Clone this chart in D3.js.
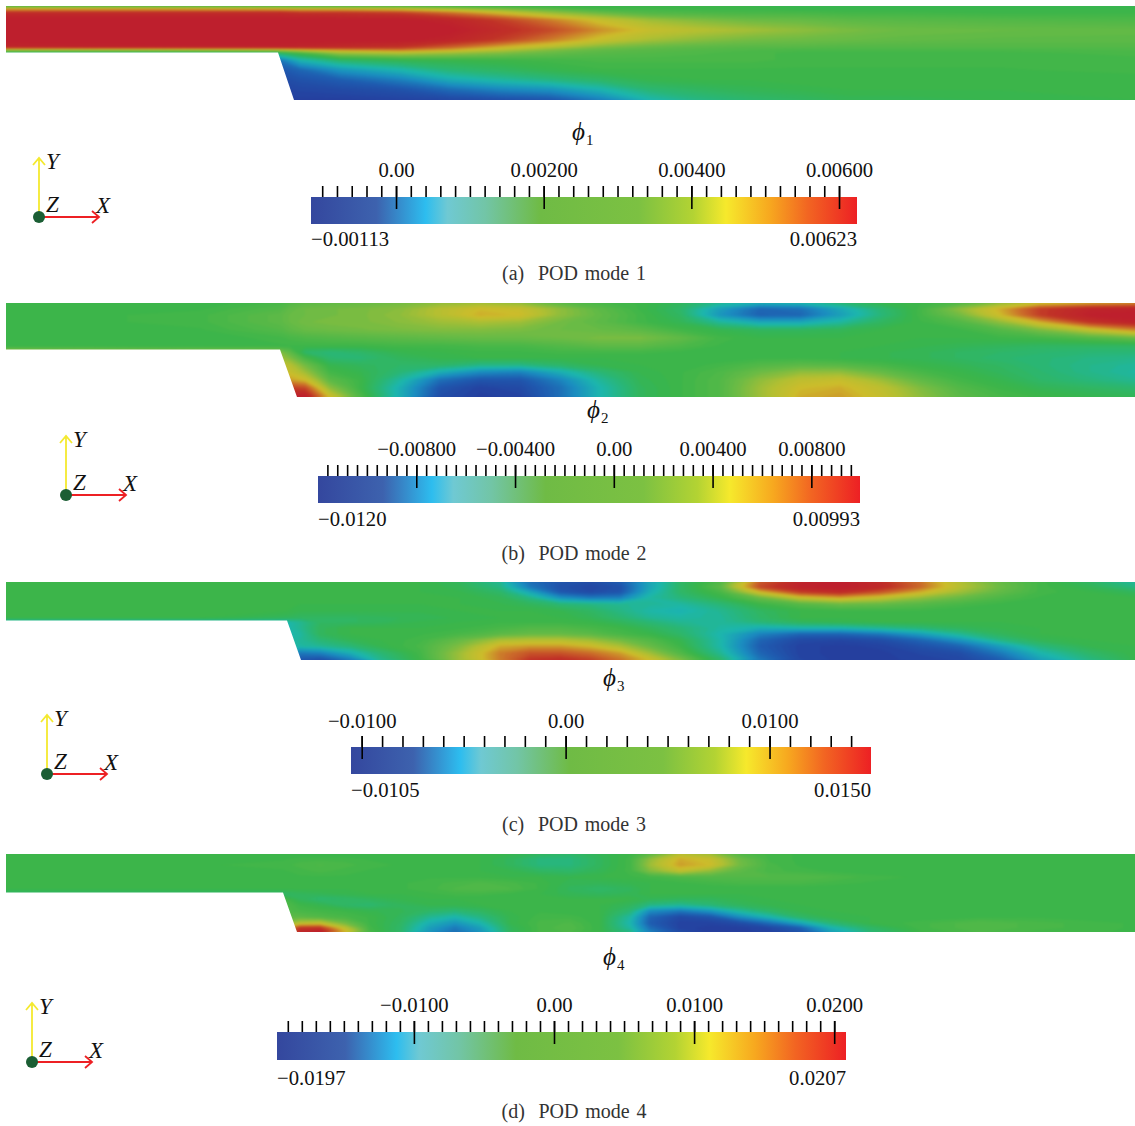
<!DOCTYPE html>
<html><head><meta charset="utf-8">
<script src="https://cdn.jsdelivr.net/npm/d3@7"></script>
<style>
html,body{margin:0;padding:0;background:#fff}
svg{display:block}
text{font-family:"Liberation Serif",serif}
</style></head><body><div id="c"></div>
<script>
// Field colour ramp: position on the 0-100 colour range
const fieldRampPos=[0,10,20,30,38,45,55,65,72,82,92,100];
const fieldRampCol=["#26389a","#1f5cb0","#1b8dc0","#1cb6ae","#2ab674","#39b54a","#6cbb45","#b3bf32","#cdbc2b","#cb6d2a","#c03027","#be1e2d"];
// Legend bar colour ramp
const barRampPos=[0,0.12,0.21,0.25,0.32,0.42,0.6,0.7,0.76,0.84,0.91,1];
const barRampCol=["#34479e","#3d62ae","#2dbdef","#6fc9d3","#72c5a6","#6fbb45","#7cc142","#b3d333","#f6e92c","#f7a81f","#f26522","#ed2024"];

// Mode 1 field (percent of colour range)
const colsA=[6,150,278,300,340,400,450,500,550,600,650,700,750,800,850,900,1000,1135];
const rowsA=[6,9,13,20,30,40,47,50,53,60,70,80,90,100];
const fieldA=[
[48,48,48,48,48,48,47,46,45,45,45,45,45,44,44,44,44,44],
[75,75,74,72,72,70,64,58,52,47,47,46,46,45,45,45,45,45],
[95,95,95,93,92,90,82,72,62,55,50,49,48,48,47,47,46,46],
[100,100,100,100,100,100,97,90,80,70,62,58,55,54,52,51,50,49],
[99,100,100,100,100,100,100,94,88,78,70,66,63,60,57,55,54,53],
[100,100,100,100,100,100,97,90,80,70,63,59,56,55,54,53,52,52],
[97,98,98,97,95,92,84,74,66,58,54,52,51,51,50,50,50,50],
[62,62,64,70,76,80,74,66,58,53,51,50,49,48,48,48,48,49],
[40,40,40,48,62,65,62,58,54,51,50,49,48,47,47,47,47,48],
[15,15,15,30,40,44,45,46,47,48,48,48,48,47,47,47,47,47],
[8,8,8,12,22,30,38,41,44,46,46,46,46,46,46,46,46,47],
[5,5,5,7,10,17,27,32,36,40,44,45,45,46,45,45,45,45],
[3,3,3,4,5,7,13,18,21,29,38,41,43,44,45,45,45,45],
[2,2,2,2,2,3,4,6,8,17,30,36,39,41,43,43,44,45]];

// Mode 2 field
const colsB=[6,200,280,290,305,330,360,400,440,480,520,560,600,640,680,720,760,800,840,880,920,960,1000,1040,1090,1135];
const rowsB=[303,309,315,322,330,338,346,352,358,365,372,380,388,397];
const fieldB=[
[45,45,48,50,52,53,54,56,60,62,60,52,48,46,42,34,28,30,38,44,46,50,60,70,75,78],
[45,46,50,53,55,56,57,59,66,72,70,60,52,46,40,24,12,14,26,38,47,60,74,90,97,98],
[45,47,52,54,55,56,57,60,66,74,72,60,53,47,41,22,11,12,24,37,47,56,72,90,99,100],
[45,47,52,54,56,57,57,59,62,64,62,56,52,47,43,33,26,26,32,41,46,50,60,74,92,98],
[45,46,50,52,54,55,56,57,58,58,57,55,54,52,47,44,42,42,43,45,45,46,50,57,68,78],
[45,45,47,48,49,50,51,52,53,54,54,55,57,57,53,47,45,45,45,45,45,45,46,47,50,54],
[45,45,46,46,46,46,46,47,47,48,48,50,52,52,49,46,45,45,45,45,44,43,42,41,41,41],
[62,60,58,52,40,38,40,44,45,46,46,47,47,47,46,45,45,45,45,44,43,41,40,39,38,38],
[64,64,62,58,48,39,38,42,44,45,45,45,45,45,45,45,46,46,45,44,43,41,39,38,36,35],
[68,68,68,66,56,44,42,40,40,36,36,40,44,45,45,47,50,52,51,48,45,43,41,38,35,33],
[72,72,72,70,62,47,44,38,28,20,18,28,38,44,46,49,55,60,60,54,48,45,42,39,35,32],
[80,80,80,76,72,52,46,32,14,8,8,18,33,43,46,50,60,68,70,62,53,47,44,40,37,34],
[92,92,92,90,88,60,46,28,8,3,5,14,30,42,46,50,62,72,74,68,58,50,46,43,41,39],
[100,100,100,100,100,72,50,28,6,2,3,14,30,42,46,50,62,74,76,70,60,52,48,46,44,43]];

// Mode 3 field
const colsC=[6,200,287,300,320,350,380,420,460,500,530,560,590,620,650,680,720,760,800,840,880,920,960,1000,1040,1090,1135];
const rowsC=[582,587,592,598,604,611,618,622,628,634,640,646,653,660];
const fieldC=[
[45,45,45,45,45,45,45,45,42,34,14,8,6,10,26,40,50,85,97,100,94,82,65,54,47,41,33],
[45,45,45,45,45,45,45,45,43,36,16,7,4,7,26,40,52,88,98,100,95,83,66,55,47,43,36],
[45,45,45,45,45,45,45,45,44,40,26,9,5,8,28,40,48,72,90,95,86,74,62,53,47,45,42],
[45,45,45,45,45,45,45,45,45,43,36,22,17,18,32,37,44,54,68,74,68,60,54,49,46,45,45],
[45,45,45,45,45,45,45,45,45,44,42,38,36,34,33,32,38,46,51,55,54,51,48,46,45,45,45],
[45,45,45,44,44,44,44,44,45,45,45,44,41,36,31,29,34,41,45,46,46,46,45,45,45,45,45],
[45,45,42,41,41,41,42,43,44,45,46,45,43,39,34,32,33,40,45,45,45,45,45,45,45,45,45],
[30,30,30,34,41,41,42,44,45,46,46,46,45,42,38,34,33,38,42,44,45,45,45,45,45,45,45],
[30,30,30,34,42,45,45,45,46,48,50,50,48,46,42,38,32,28,30,30,34,38,42,44,45,45,45],
[30,30,30,32,42,45,45,46,48,52,54,54,52,48,45,40,30,18,12,12,16,24,34,42,45,45,45],
[30,30,30,33,38,43,45,47,54,64,66,66,62,56,50,44,31,12,5,4,6,12,22,36,43,45,45],
[30,30,30,32,34,38,44,48,58,74,76,76,72,64,54,46,31,10,3,2,3,7,12,24,37,44,45],
[30,30,28,16,18,28,38,47,62,80,86,86,82,76,62,50,34,12,3,2,2,4,6,16,30,40,45],
[30,30,20,8,6,16,34,46,62,80,92,94,90,82,72,58,40,16,4,2,2,3,4,10,24,36,44]];

// Mode 4 field
const colsD=[6,200,283,300,320,345,370,400,430,455,480,510,540,570,600,630,650,680,710,740,770,800,830,870,920,980,1040,1135];
const rowsD=[854,859,865,871,877,883,889,894,899,905,911,917,923,928,932];
const fieldD=[
[45,45,45,45,45,45,45,45,45,45,45,44,42,40,43,46,52,66,62,50,47,46,45,45,45,45,45,45],
[45,46,46,47,47,47,46,46,45,45,45,42,37,37,42,47,60,74,70,55,47,46,45,45,45,45,45,45],
[45,46,47,48,49,48,47,46,45,45,45,42,37,37,42,47,62,76,72,56,48,46,45,45,45,45,45,45],
[45,45,46,47,48,47,46,46,45,45,45,44,41,40,43,47,58,68,60,52,48,47,46,45,45,45,45,45],
[45,45,45,46,46,46,46,46,46,46,46,45,45,44,45,46,47,49,50,50,50,50,49,47,46,45,45,45],
[45,45,45,45,45,45,46,46,47,48,49,48,46,43,43,44,45,46,47,48,48,48,47,46,45,45,45,45],
[45,45,45,45,45,45,45,46,47,49,50,49,46,42,40,42,45,45,45,45,45,45,45,45,45,45,45,45],
[40,40,40,42,43,44,45,45,46,47,47,46,45,43,42,43,45,45,45,45,45,45,45,45,45,45,45,45],
[48,48,48,42,39,40,42,44,45,45,45,45,45,45,45,45,43,42,42,44,45,45,45,45,45,45,45,45],
[50,50,50,46,44,40,39,42,44,44,45,45,45,45,45,42,36,34,38,42,44,45,45,45,45,45,45,45],
[50,50,50,48,47,46,44,43,40,38,41,45,46,45,45,38,20,16,22,33,40,44,45,45,45,45,45,45],
[52,52,52,52,50,48,46,42,34,30,36,44,47,47,45,32,12,5,8,20,30,40,44,45,45,46,46,45],
[58,58,58,66,68,56,46,41,28,22,30,44,48,49,45,30,10,3,3,6,14,26,38,45,47,50,48,46],
[70,70,72,92,92,68,47,40,24,16,24,42,48,50,45,32,14,3,2,2,4,10,28,40,47,50,48,46],
[72,72,72,96,100,74,48,40,22,14,22,42,48,49,45,36,18,6,2,2,3,8,24,38,46,49,47,46]];

// Legend ranges and ticks
const rangeA=[-0.00113,0.00623], majorA=[0,0.002,0.004,0.006], majorLabelsA=["0.00","0.00200","0.00400","0.00600"], minorA=[-0.001,0.0062,0.0002], endLabelsA=["\u22120.00113","0.00623"];
const rangeB=[-0.012,0.00993], majorB=[-0.008,-0.004,0,0.004,0.008], majorLabelsB=["\u22120.00800","\u22120.00400","0.00","0.00400","0.00800"], minorB=[-0.0116,0.0098,0.0004], endLabelsB=["\u22120.0120","0.00993"];
const rangeC=[-0.0105,0.015], majorC=[-0.01,0,0.01], majorLabelsC=["\u22120.0100","0.00","0.0100"], minorC=[-0.01,0.0145,0.001], endLabelsC=["\u22120.0105","0.0150"];
const rangeD=[-0.0197,0.0207], majorD=[-0.01,0,0.01,0.02], majorLabelsD=["\u22120.0100","0.00","0.0100","0.0200"], minorD=[-0.019,0.0205,0.001], endLabelsD=["\u22120.0197","0.0207"];
const captions=["(a)  POD mode 1","(b)  POD mode 2","(c)  POD mode 3","(d)  POD mode 4"];
const symbols=["1","2","3","4"];

const panels=[
 {cols:colsA,rows:rowsA,field:fieldA,clip:[[6,6],[1135,6],[1135,100],[294,100],[278,52.5],[6,52.5]],
  range:rangeA,major:majorA,labels:majorLabelsA,minor:minorA,ends:endLabelsA,bar:[311,857,197,224],inset:[1.6,-1],pad:9,end:246,cap:[574,280],sym:[572,140],tri:[39,217]},
 {cols:colsB,rows:rowsB,field:fieldB,clip:[[6,303],[1135,303],[1135,397],[297,397],[280,349.5],[6,349.5]],
  range:rangeB,major:majorB,labels:majorLabelsB,minor:minorB,ends:endLabelsB,bar:[318,860,476,503],inset:[-0.5,-1],pad:9,end:526,cap:[574,560],sym:[587,418],tri:[66,495]},
 {cols:colsC,rows:rowsC,field:fieldC,clip:[[6,582],[1135,582],[1135,660],[301,660],[287,620.5],[6,620.5]],
  range:rangeC,major:majorC,labels:majorLabelsC,minor:minorC,ends:endLabelsC,bar:[351,871,747,774],inset:[0.5,0.5],pad:8,end:797,cap:[574,831],sym:[603,686],tri:[47,774]},
 {cols:colsD,rows:rowsD,field:fieldD,clip:[[6,854],[1135,854],[1135,932],[297,932],[283,892.5],[6,892.5]],
  range:rangeD,major:majorD,labels:majorLabelsD,minor:minorD,ends:endLabelsD,bar:[277,846,1032,1060],inset:[1,-2],pad:9,end:1085,cap:[574,1118],sym:[603,965],tri:[32,1062]}
];

const W=1135,H=1126;
const svg=d3.select("#c").append("svg").attr("width",W).attr("height",H).attr("viewBox",[0,0,W,H]);
const defs=svg.append("defs");
const blur=defs.append("filter").attr("id","soft").attr("filterUnits","userSpaceOnUse")
  .attr("x",-20).attr("y",-20).attr("width",W+40).attr("height",H+40)
  .attr("color-interpolation-filters","sRGB");
blur.append("feGaussianBlur").attr("stdDeviation",0.9);
const barGrad=defs.append("linearGradient").attr("id","barRamp");
barGrad.selectAll("stop").data(barRampPos).join("stop")
  .attr("offset",d=>d).attr("stop-color",(d,i)=>barRampCol[i]);

const color=d3.scaleLinear().domain(fieldRampPos).range(fieldRampCol).interpolate(d3.interpolateRgb);
const levels=d3.range(0,100,1.25);

panels.forEach((p,k)=>{
  const n=p.cols.length,m=p.rows.length;
  const xIdx=d3.scaleLinear().domain(d3.range(n)).range(p.cols);
  const yIdx=d3.scaleLinear().domain(d3.range(m)).range(p.rows);
  const path=d3.geoPath(d3.geoTransform({point(x,y){this.stream.point(xIdx(x-0.5),yIdx(y-0.5));}}));
  const bands=d3.contours().size([n,m]).thresholds(levels)(p.field.flat());
  defs.append("clipPath").attr("id","clip"+k).append("polygon").attr("points",p.clip.join(" "));
  svg.append("g").attr("clip-path",`url(#clip${k})`)
    .append("g").attr("filter","url(#soft)")
    .selectAll("path").data(bands).join("path")
    .attr("d",path).attr("fill",d=>color(d.value+0.6));

  // legend bar
  const [x0,x1,y0,y1]=p.bar;
  const x=d3.scaleLinear().domain(p.range).range([x0+p.inset[0],x1+p.inset[1]]);
  svg.append("rect").attr("x",x0).attr("y",y0).attr("width",x1-x0).attr("height",y1-y0).attr("fill","url(#barRamp)");
  const minorVals=d3.range(p.minor[0],p.minor[1],p.minor[2]);
  const gMinor=svg.append("g").attr("transform",`translate(0,${y0})`)
    .call(d3.axisTop(x).tickValues(minorVals).tickSize(11).tickFormat(""));
  const gMajor=svg.append("g").attr("transform",`translate(0,${y0+12})`)
    .call(d3.axisTop(x).tickValues(p.major).tickSize(23).tickPadding(p.pad).tickFormat((d,i)=>p.labels[i]));
  [gMinor,gMajor].forEach(g=>{
    g.select(".domain").remove();
    g.selectAll("line").attr("stroke","#000").attr("stroke-width",1.6);
  });
  gMajor.selectAll("text").attr("font-size",20.7).attr("fill","#111").style("font-family",'"Liberation Serif",serif');
  svg.append("text").attr("x",x0).attr("y",p.end).attr("font-size",20.7).attr("fill","#111").text(p.ends[0]);
  svg.append("text").attr("x",x1).attr("y",p.end).attr("text-anchor","end").attr("font-size",20.7).attr("fill","#111").text(p.ends[1]);

  // caption
  svg.append("text").attr("x",p.cap[0]).attr("y",p.cap[1]).attr("text-anchor","middle")
    .attr("font-size",20).attr("fill","#333").style("word-spacing","1.8px").style("white-space","pre").text(captions[k]);

  // symbol
  const s=svg.append("text").attr("x",p.sym[0]).attr("y",p.sym[1]).attr("fill","#111");
  s.append("tspan").attr("font-size",25).attr("font-style","italic").text("\u03D5");
  s.append("tspan").attr("font-size",15).attr("dy",5).attr("dx",1).text(symbols[k]);

  // orientation triad
  const [ox,oy]=p.tri;
  const t=svg.append("g").attr("fill","none").attr("stroke-width",1.8);
  t.append("path").attr("stroke","#f4e92f").attr("d",`M${ox},${oy}V${oy-59}M${ox-6},${oy-52}L${ox},${oy-59}L${ox+6},${oy-52}`);
  t.append("path").attr("stroke","#ed2024").attr("d",`M${ox},${oy}H${ox+60}M${ox+53},${oy-6}L${ox+60},${oy}L${ox+53},${oy+6}`);
  svg.append("circle").attr("cx",ox).attr("cy",oy).attr("r",6).attr("fill","#1b5e34");
  [["Y",ox+7,oy-48],["Z",ox+7,oy-5],["X",ox+57,oy-4]].forEach(([l,a,b])=>{
    svg.append("text").attr("x",a).attr("y",b).attr("font-size",23).attr("font-style","italic").attr("fill","#111").text(l);
  });
});
</script></body></html>
